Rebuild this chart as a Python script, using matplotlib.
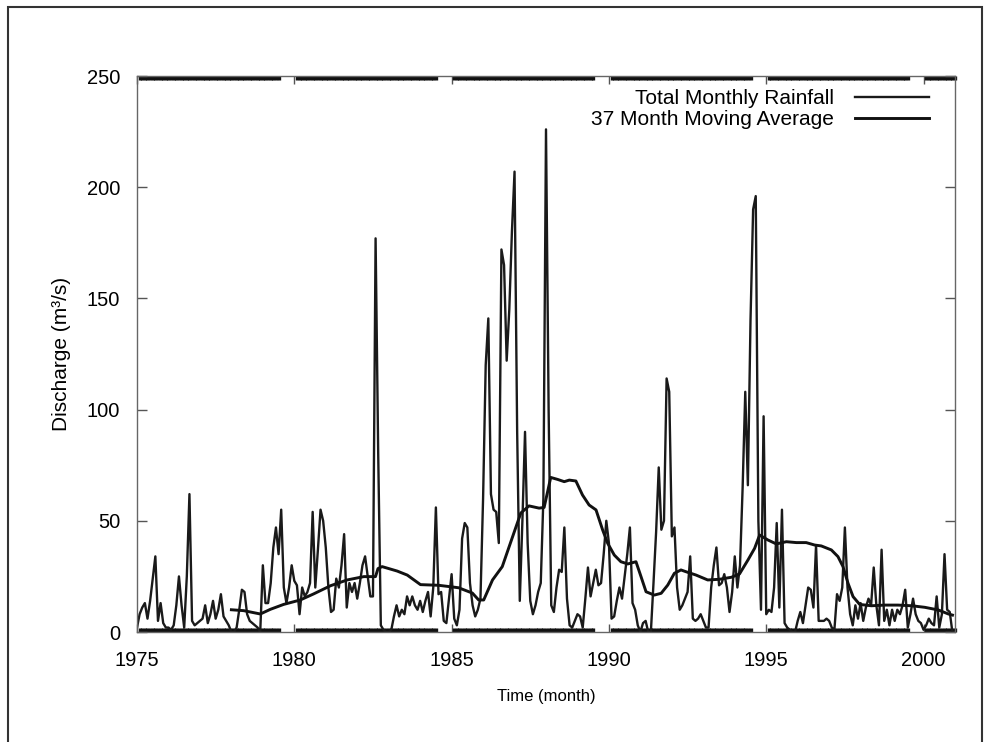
import numpy as np
import matplotlib
matplotlib.use("Agg")
import matplotlib.pyplot as plt
from matplotlib.patches import Rectangle
from matplotlib.ticker import FixedLocator

plt.rcParams['font.family'] = ['Liberation Sans', 'DejaVu Sans']

# monthly discharge (m3/s), Jan..Dec of each year
q1975 = [2, 8, 11, 13, 6, 14, 24, 34, 5, 13, 4, 2]
q1976 = [2, 1, 3, 12, 25, 12, 2, 25, 62, 5, 3, 4]
q1977 = [5, 6, 12, 4, 8, 14, 6, 10, 17, 7, 5, 3]
q1978 = [0, 0, 2, 10, 19, 18, 8, 5, 4, 3, 2, 0]
q1979 = [30, 13, 13, 22, 38, 47, 35, 55, 20, 13, 20, 30]
q1980 = [23, 21, 8, 20, 16, 18, 22, 54, 20, 37, 55, 50]
q1981 = [38, 20, 9, 10, 24, 20, 30, 44, 11, 22, 18, 22]
q1982 = [15, 22, 30, 34, 25, 16, 16, 177, 80, 3, 1, 0]
q1983 = [0, 1, 7, 12, 7, 10, 8, 16, 12, 16, 12, 10]
q1984 = [14, 9, 14, 18, 7, 20, 56, 17, 18, 5, 4, 15]
q1985 = [26, 6, 3, 10, 42, 49, 47, 22, 12, 7, 10, 15]
q1986 = [60, 120, 141, 62, 55, 54, 40, 172, 165, 122, 145, 180]
q1987 = [207, 90, 14, 50, 90, 40, 14, 8, 12, 18, 22, 60]
q1988 = [226, 100, 12, 9, 20, 28, 27, 47, 15, 3, 2, 5]
q1989 = [8, 7, 2, 15, 29, 16, 22, 28, 21, 22, 35, 50]
q1990 = [40, 6, 7, 14, 20, 15, 25, 35, 47, 13, 10, 3]
q1991 = [0, 4, 5, 0, 0, 22, 45, 74, 46, 50, 114, 108]
q1992 = [43, 47, 20, 10, 12, 15, 18, 34, 6, 5, 6, 8]
q1993 = [5, 2, 2, 20, 30, 38, 21, 22, 26, 20, 9, 18]
q1994 = [34, 20, 30, 65, 108, 66, 140, 190, 196, 50, 10, 97]
q1995 = [8, 10, 9, 20, 49, 11, 55, 4, 2, 1, 0, 0]
q1996 = [5, 9, 4, 12, 20, 19, 11, 39, 5, 5, 5, 6]
q1997 = [5, 2, 1, 17, 14, 20, 47, 20, 8, 3, 12, 6]
q1998 = [13, 5, 11, 15, 12, 29, 12, 3, 37, 5, 10, 3]
q1999 = [10, 5, 10, 8, 12, 19, 2, 8, 15, 8, 5, 4]
q2000 = [1, 3, 6, 4, 3, 16, 2, 8, 35, 10, 9, 0]

# 37 month moving average
ma_time = [1978.0, 1978.39, 1978.92, 1979.24, 1979.66, 1980.19, 1980.61, 1981.15,
           1981.68, 1982.21, 1982.58, 1982.66, 1982.79, 1983.27, 1983.59, 1984.01,
           1984.59, 1985.22, 1985.66, 1985.86, 1986.02, 1986.30, 1986.61, 1987.04,
           1987.20, 1987.46, 1987.78, 1987.94, 1988.05, 1988.15, 1988.37, 1988.58,
           1988.74, 1988.95, 1989.16, 1989.37, 1989.59, 1989.80, 1989.96, 1990.17,
           1990.38, 1990.60, 1990.86, 1991.02, 1991.18, 1991.44, 1991.66, 1991.87,
           1992.08, 1992.29, 1992.45, 1992.77, 1993.14, 1993.51, 1993.89, 1994.15,
           1994.42, 1994.63, 1994.79, 1995.05, 1995.32, 1995.64, 1995.96, 1996.27,
           1996.54, 1996.75, 1997.07, 1997.28, 1997.44, 1997.60, 1997.76, 1997.97,
           1998.34, 1998.77, 1999.19, 1999.62, 2000.04, 2000.47, 2000.79, 2000.92]
ma_value = [10.0, 9.6, 8.1, 10.2, 12.4, 14.4, 17.1, 20.8,
            23.4, 24.9, 24.9, 28.5, 29.4, 27.4, 25.6, 21.3,
            21.0, 19.9, 17.5, 14.4, 14.4, 23.4, 29.4, 47.0,
            53.5, 56.7, 55.7, 56.0, 63.0, 69.5, 68.6, 67.6,
            68.3, 67.9, 61.6, 57.1, 54.9, 45.9, 39.9, 34.6,
            31.6, 30.6, 31.6, 24.9, 18.1, 16.6, 17.4, 21.1,
            26.4, 27.9, 27.1, 25.6, 23.4, 23.7, 24.6, 26.1,
            32.4, 37.6, 43.6, 41.4, 39.6, 40.6, 40.2, 40.2,
            39.1, 38.7, 36.9, 33.9, 29.4, 21.9, 15.9, 12.4,
            11.8, 12.1, 12.1, 11.8, 11.1, 9.9, 8.1, 7.6]

years = list(range(1975, 2001))
year_ticks = [1975, 1980, 1985, 1990, 1995, 2000]
y_ticks = [0, 50, 100, 150, 200, 250]

discharge = np.concatenate([q1975, q1976, q1977, q1978, q1979, q1980, q1981,
                            q1982, q1983, q1984, q1985, q1986, q1987, q1988,
                            q1989, q1990, q1991, q1992, q1993, q1994, q1995,
                            q1996, q1997, q1998, q1999, q2000])
t = years[0] + np.arange(len(discharge)) / 12.0

fig = plt.figure(figsize=(9.95, 7.42), dpi=100)
ax = fig.add_axes([137 / 995, 1 - 632 / 742, 818 / 995, 556 / 742])

ax.plot(t, discharge, color='#1a1a1a', lw=1.7, label='Total Monthly Rainfall')
ax.plot(ma_time, ma_value, color='#111111', lw=2.1, label='37 Month Moving Average')

ax.set_xlim(1975, 2001)
ax.set_ylim(0, 250)
ax.set_xticks(year_ticks)
ax.set_yticks(y_ticks)

# dense monthly minor ticks make the heavy top/bottom band of the original
minor = [m / 12.0 for m in range(1975 * 12, 2001 * 12 + 1)]
minor = [m for m in minor
         if not any(y - 0.45 <= m <= y for y in year_ticks[1:])]
ax.xaxis.set_minor_locator(FixedLocator(minor))

ax.tick_params(axis='x', which='minor', direction='in', length=3, width=2.4,
               top=True, bottom=True, color='#111111')
ax.tick_params(axis='x', which='major', direction='in', length=6, width=1,
               top=True, color='#555555', labelsize=14.5, pad=14)
ax.tick_params(axis='y', which='major', direction='in', length=7, width=1,
               right=True, color='#555555', labelsize=14.5, pad=12)

for s in ax.spines.values():
    s.set_color('#666666')
    s.set_linewidth(1.0)

ax.set_ylabel('Discharge (m³/s)', fontsize=15)
ax.yaxis.set_label_coords(-0.081, 0.5)
ax.set_xlabel('Time (month)', fontsize=12)
ax.xaxis.set_label_coords(0.5, -0.102)

ax.legend(loc='upper right', bbox_to_anchor=(0.968, 0.976), frameon=False,
          markerfirst=False, fontsize=15, handlelength=3.55, handletextpad=1.0,
          labelspacing=0.1, borderaxespad=0, borderpad=0)

fig.add_artist(Rectangle((8 / 995, -0.05), (982 - 8) / 995, 1.05 - 7 / 742,
                         transform=fig.transFigure, fill=False, lw=1.5,
                         ec='#333333'))

fig.savefig('out.png', dpi=100)
